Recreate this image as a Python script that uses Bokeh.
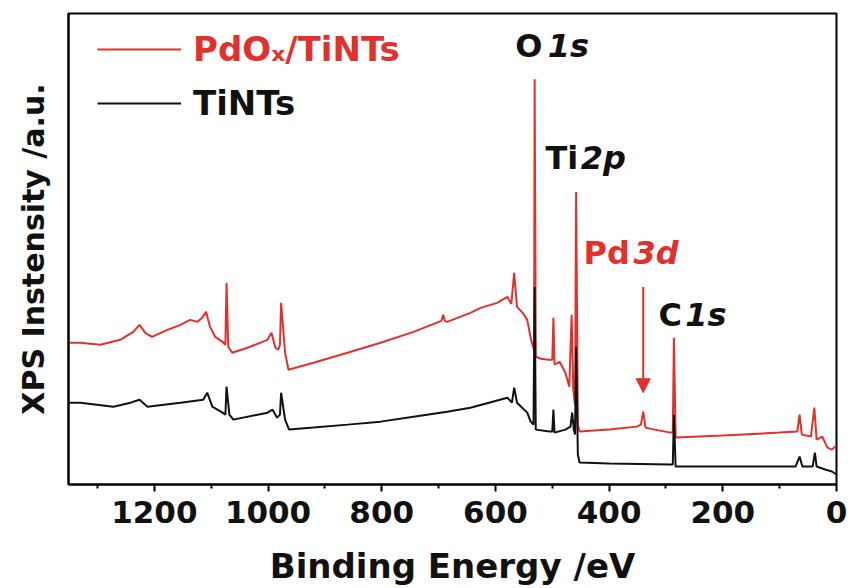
from bokeh.plotting import figure
from bokeh.models import Range1d, FixedTicker, Label, Legend, LegendItem, Arrow, NormalHead
from bokeh.embed import file_html
from bokeh.resources import INLINE

# ---- data (binding energy in eV, intensity in a.u.) ----
red_ev = [1351, 1330, 1295, 1260, 1237, 1226, 1216, 1204, 1177, 1154, 1137, 1124, 1116, 1109,
          1102, 1093, 1080, 1075, 1073, 1070, 1063, 1036, 1001, 994, 987, 982, 979, 977, 970,
          964, 920, 860, 802, 744, 695, 692, 689, 685, 644, 626, 597, 579, 572, 567, 562, 552,
          544, 538, 535, 532, 531, 529, 520, 507, 500, 498, 496, 487, 477, 470, 466, 463, 460,
          458, 455, 452, 400, 351, 344, 340, 336, 320, 292, 288, 286, 283, 200, 100, 69, 65,
          61, 45, 39, 35, 25, 16, 8, 2, 0]
red_int = [142, 142, 140, 145, 153, 160, 152, 148, 155, 160, 165, 163, 167, 173,
           158, 148, 143, 140, 202, 138, 132, 137, 145, 152, 137, 135, 140, 182, 132,
           115, 122, 132, 142, 153, 164, 170, 164, 163, 172, 177, 182, 188, 181, 212, 178, 172,
           165, 147, 140, 135, 406, 128, 126, 125, 125, 167, 120, 123, 112, 98, 170, 95, 80,
           293, 60, 53, 55, 58, 60, 73, 57, 55, 52, 52, 147, 47, 49, 52, 53, 70,
           50, 48, 77, 45, 48, 37, 35, 38, 38]

black_ev = [1351, 1330, 1272, 1242, 1226, 1212, 1154, 1114, 1107, 1098, 1080, 1075, 1073, 1068,
            1061, 1001, 992, 984, 979, 977, 970, 963, 920, 860, 802, 744, 685, 644, 579, 571,
            567, 562, 544, 538, 533, 531, 529, 505, 500, 498, 496, 477, 468, 465, 462, 460,
            458, 455, 452, 400, 292, 288, 286, 283, 200, 72, 65, 60, 42, 38, 35, 20, 8, 0]
black_int = [82, 82, 78, 82, 85, 78, 82, 85, 92, 78, 72, 70, 98, 70,
             65, 72, 75, 67, 70, 92, 65, 55, 57, 60, 63, 68, 73, 77, 87, 82,
             97, 82, 72, 63, 60, 198, 55, 53, 53, 75, 52, 55, 58, 72, 55, 50,
             138, 30, 22, 21, 20, 20, 70, 18, 18, 18, 28, 18, 18, 32, 18, 15, 13, 10]

x_ticks = [0, 200, 400, 600, 800, 1000, 1200]
x_minor = [100, 300, 500, 700, 900, 1100, 1300]

series_names = ["PdO\u2093/TiNTs", "TiNTs"]
RED = "#e2312d"
BLACK = "#111111"
FONT = "DejaVu Sans"

p = figure(width=850, height=588, output_backend="svg", toolbar_location=None,
           x_range=Range1d(1351, 0), y_range=Range1d(0, 472),
           min_border_left=68, min_border_right=14, min_border_top=13, min_border_bottom=103)

p.outline_line_color = "black"
p.outline_line_width = 2
p.xgrid.visible = False
p.ygrid.visible = False
p.background_fill_color = "white"
p.border_fill_color = "white"

r_red = p.line(red_ev, red_int, line_color=RED, line_width=2)
r_black = p.line(black_ev, black_int, line_color=BLACK, line_width=2)

xa = p.xaxis[0]
xa.ticker = FixedTicker(ticks=x_ticks, minor_ticks=x_minor)
xa.axis_line_width = 2
xa.major_tick_line_width = 2
xa.minor_tick_line_width = 2
xa.major_tick_in = 0
xa.major_tick_out = 7
xa.minor_tick_in = 0
xa.minor_tick_out = 4
xa.major_label_text_font = FONT
xa.major_label_text_font_style = "bold"
xa.major_label_text_font_size = "31px"
xa.major_label_text_color = BLACK
xa.major_label_text_line_height = 1.0
xa.major_label_standoff = 9
xa.axis_label = "Binding Energy /eV"
xa.axis_label_text_font = FONT
xa.axis_label_text_font_style = "bold"
xa.axis_label_text_font_size = "34px"
xa.axis_label_text_color = BLACK
xa.axis_label_text_line_height = 1.0
xa.axis_label_standoff = 20

ya = p.yaxis[0]
ya.ticker = FixedTicker(ticks=[])
ya.major_tick_line_color = None
ya.minor_tick_line_color = None
ya.axis_line_width = 2
ya.axis_label = "XPS Instensity /a.u."
ya.axis_label_text_font = FONT
ya.axis_label_text_font_style = "bold"
ya.axis_label_text_font_size = "30px"
ya.axis_label_text_color = BLACK
ya.axis_label_standoff = 18

# legends (one per series so each label has its own colour)
for name, rend, col, loc in [(series_names[0], r_red, RED, (29, 415)),
                             (series_names[1], r_black, BLACK, (29, 361))]:
    lg = Legend(items=[LegendItem(label=name, renderers=[rend])], location=loc,
                border_line_color=None, background_fill_alpha=0, padding=0, margin=0,
                glyph_width=84, glyph_height=40, label_height=40, label_standoff=12,
                label_text_font=FONT, label_text_font_style="bold",
                label_text_font_size="34px", label_text_color=col, spacing=0)
    p.add_layout(lg)

# peak annotations: (upright part, italic part, x of upright, x of italic, baseline y, colour)
peaks = [("O", "1s", 565, 508, 439, BLACK),
         ("Ti", "2p", 512, 450, 327, BLACK),
         ("Pd", "3d", 445, 357, 232, RED),
         ("C", "1s", 313, 266, 170, BLACK)]
for up, it, xu, xi, yb, col in peaks:
    p.add_layout(Label(x=xu, y=yb, text=up, text_font=FONT, text_font_style="bold",
                       text_font_size="32px", text_color=col, text_align="left",
                       text_baseline="alphabetic"))
    p.add_layout(Label(x=xi, y=yb, text=it, text_font=FONT, text_font_style="bold italic",
                       text_font_size="32px", text_color=col, text_align="left",
                       text_baseline="alphabetic"))

p.add_layout(Arrow(end=NormalHead(size=14, fill_color=RED, line_color=RED),
                   x_start=340, y_start=198, x_end=340, y_end=92,
                   line_color=RED, line_width=2))

open("out.html", "w").write(file_html(p, INLINE))
